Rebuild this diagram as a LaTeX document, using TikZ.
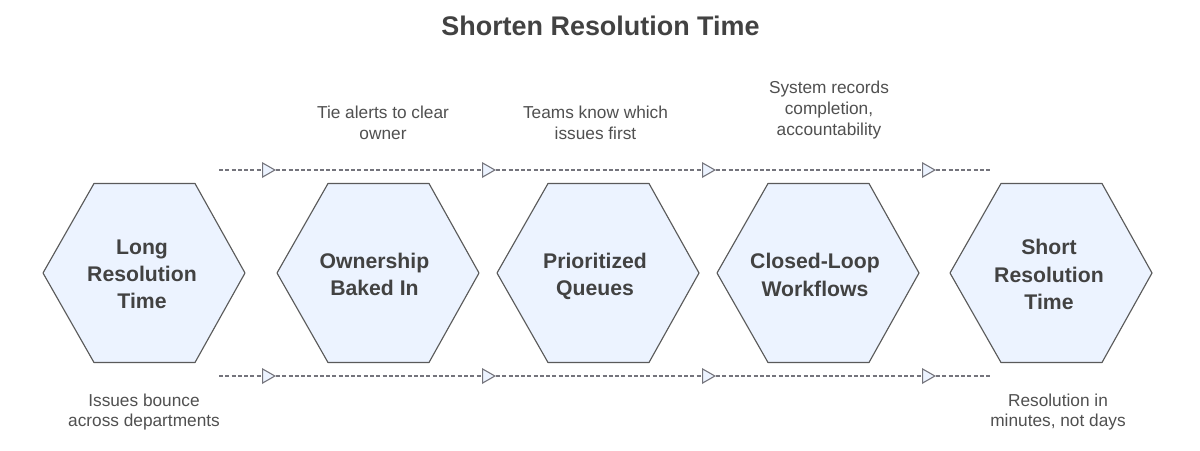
\documentclass[tikz,border=0pt]{standalone}
\usepackage{fontspec}
\setmainfont{Liberation Sans}
\usetikzlibrary{arrows.meta}
\definecolor{hexfill}{HTML}{ECF3FF}
\definecolor{hexline}{HTML}{5A5A5A}
\definecolor{titlecol}{HTML}{424242}
\definecolor{bodycol}{HTML}{505050}
\definecolor{dashcol}{HTML}{74747C}
\tikzset{
  hexpath/.style={draw=hexline,fill=hexfill,line width=0.85pt,line join=round},
  hexlabel/.style={align=center,text=titlecol,font=\fontsize{15.9pt}{20.4pt}\selectfont\bfseries},
  note/.style={align=center,text=bodycol,font=\fontsize{12.95pt}{15.5pt}\selectfont},
  titlelabel/.style={text=titlecol,font=\fontsize{20.2pt}{24pt}\selectfont\bfseries},
  flow/.style={draw=dashcol,line width=0.8pt,dash pattern=on 3pt off 1.7pt},
  flowtip/.style={flow,-{Triangle[open,length=10.5pt,width=11.8pt,fill=hexfill,line width=0.8pt,color=dashcol]}}
}
\newcommand{\hexagon}[1]{%
  \draw[hexpath] (#1-101,273) -- (#1-50,183.5) -- (#1+51,183.5) -- (#1+101,273) -- (#1+51,362.5) -- (#1-50,362.5) -- cycle;}
\begin{document}
\begin{tikzpicture}[x=0.75pt,y=-0.75pt]
\useasboundingbox (0,0) rectangle (1200,450);
\fill[white] (0,0) rectangle (1200,450);
\node[titlelabel] (title) at (600.5,26) {Shorten Resolution Time};
\hexagon{144}\hexagon{378}\hexagon{598}\hexagon{818}\hexagon{1051}
\node[hexlabel] (h1) at (142,274.5) {Long\\Resolution\\Time};
\node[hexlabel] (h2) at (374.5,274.5) {Ownership\\Baked In};
\node[hexlabel] (h3) at (595,276.5) {Prioritized\\Queues};
\node[hexlabel] (h4) at (815,275) {Closed-Loop\\Workflows};
\node[hexlabel] (h5) at (1049,274.5) {Short\\Resolution\\Time};
\node[note] (n1) at (144,412) {Issues bounce\\across departments};
\node[note] (n2) at (383,122.5) {Tie alerts to clear\\owner};
\node[note] (n3) at (595.5,122.5) {Teams know which\\issues first};
\node[note] (n4) at (829,110) {System records\\completion,\\accountability};
\node[note] (n5) at (1058,412) {Resolution in\\minutes, not days};
\foreach \y/\r in {170/t,376/b}{
  \coordinate (\r0) at (219,\y);
  \coordinate (\r1) at (276,\y);
  \coordinate (\r2) at (496,\y);
  \coordinate (\r3) at (716,\y);
  \coordinate (\r4) at (936,\y);
  \coordinate (\r5) at (990,\y);
  \draw[flow] (\r4) -- (\r5);
  \draw[flowtip] (\r3) -- (\r4);
  \draw[flowtip] (\r2) -- (\r3);
  \draw[flowtip] (\r1) -- (\r2);
  \draw[flowtip] (\r0) -- (\r1);
}
\end{tikzpicture}
\end{document}
